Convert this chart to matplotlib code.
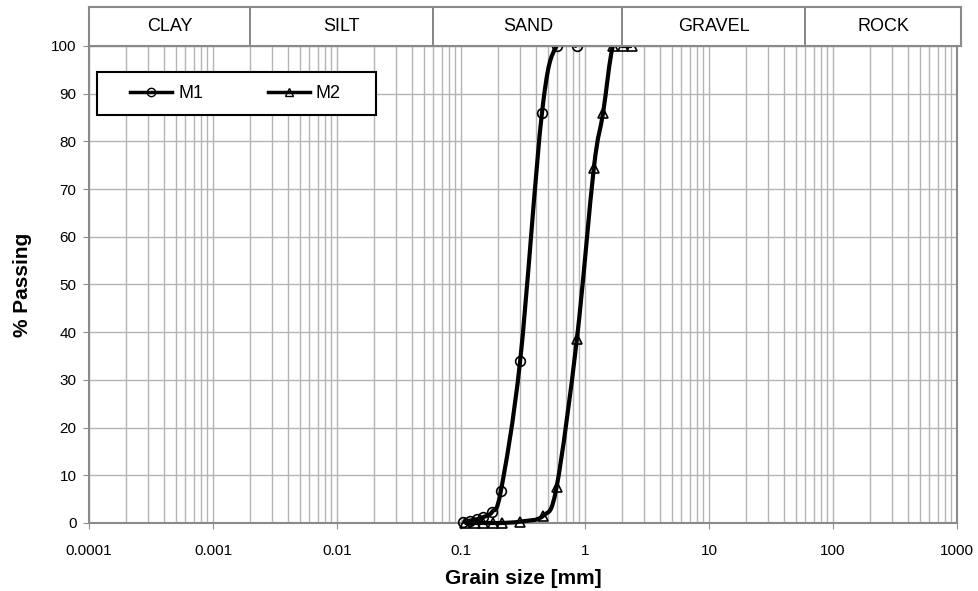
import numpy as np
import matplotlib.pyplot as plt
from matplotlib.path import Path
from matplotlib.patches import PathPatch, Rectangle
from matplotlib.lines import Line2D
from matplotlib.ticker import FixedLocator, FixedFormatter, NullFormatter

plt.rcParams['font.family'] = ['Liberation Sans', 'DejaVu Sans']

# grain size distribution (sieve sizes in mm, % passing)
m1_size = [0.104, 0.118, 0.135, 0.15, 0.178, 0.21, 0.30, 0.45, 0.59, 0.86]
m1_pass = [0.2, 0.5, 0.8, 1.2, 2.3, 6.8, 34, 86, 100, 100]

m2_size = [0.107, 0.13, 0.15, 0.18, 0.215, 0.30, 0.46, 0.59, 0.86, 1.18, 1.40, 1.68, 2.02, 2.39]
m2_pass = [0, 0, 0, 0, 0, 0.3, 1.5, 7.5, 38.5, 74.5, 86, 100, 100, 100]

# soil classes along the top
class_names = ['CLAY', 'SILT', 'SAND', 'GRAVEL', 'ROCK']
class_edges = [0.0001, 0.002, 0.06, 2, 60, 1000]

x_ticks = [0.0001, 0.001, 0.01, 0.1, 1, 10, 100, 1000]
x_labels = ['0.0001', '0.001', '0.01', '0.1', '1', '10', '100', '1000']


def smooth_path(xs, ys):
    # excel-like smoothed line: catmull-rom bezier drawn in log-x space
    lx = np.log10(xs)
    y = np.asarray(ys, dtype=float)
    n = len(lx)
    verts = [(xs[0], y[0])]
    codes = [Path.MOVETO]
    for i in range(n - 1):
        i0 = max(i - 1, 0)
        i3 = min(i + 2, n - 1)
        c1 = (lx[i] + (lx[i + 1] - lx[i0]) / 6, y[i] + (y[i + 1] - y[i0]) / 6)
        c2 = (lx[i + 1] - (lx[i3] - lx[i]) / 6, y[i + 1] - (y[i3] - y[i]) / 6)
        verts += [(10 ** c1[0], c1[1]), (10 ** c2[0], c2[1]), (xs[i + 1], y[i + 1])]
        codes += [Path.CURVE4] * 3
    return Path(verts, codes)


fig = plt.figure(figsize=(9.79, 5.91), dpi=100)
ax = fig.add_axes([0.0909, 0.1151, 0.8866, 0.8071])
band = fig.add_axes([0.0909, 0.9222, 0.8907, 0.066])

ax.set_xscale('log')
ax.set_xlim(0.0001, 1000)
ax.set_ylim(0, 100)

ax.xaxis.set_major_locator(FixedLocator(x_ticks))
ax.xaxis.set_major_formatter(FixedFormatter(x_labels))
minor = [m * 10.0 ** e for e in range(-4, 3) for m in range(2, 10)]
ax.xaxis.set_minor_locator(FixedLocator(minor))
ax.xaxis.set_minor_formatter(NullFormatter())
ax.set_yticks(np.arange(0, 101, 10))

ax.grid(True, which='both', axis='x', color='#b4b4b4', linewidth=1.0)
ax.grid(True, which='major', axis='y', color='#b4b4b4', linewidth=1.0)
ax.set_axisbelow(True)

ax.tick_params(axis='both', which='major', labelsize=11, length=4, color='#909090')
ax.tick_params(axis='x', which='major', pad=11)
ax.tick_params(axis='y', which='major', pad=5)
ax.tick_params(axis='x', which='minor', length=0)
for s in ax.spines.values():
    s.set_color('#8a8a8a')
    s.set_linewidth(1.5)

for xs, ys, mk in [(m1_size, m1_pass, 'o'), (m2_size, m2_pass, '^')]:
    ax.add_patch(PathPatch(smooth_path(xs, ys), facecolor='none', edgecolor='black',
                           linewidth=3, zorder=3, clip_on=False))
    ax.plot(xs, ys, linestyle='none', marker=mk, markersize=7, markerfacecolor='none',
            markeredgecolor='black', markeredgewidth=1.2, zorder=4, clip_on=False)

# legend: frame drawn as a rectangle, entries laid out inside it
ax.add_patch(Rectangle((0.0092, 0.855), 0.321, 0.09, transform=ax.transAxes,
                       facecolor='white', edgecolor='black', linewidth=1.5, zorder=5))
handles = [Line2D([], [], color='black', linewidth=2.5, marker='o', markersize=6,
                  markerfacecolor='none', markeredgecolor='black'),
           Line2D([], [], color='black', linewidth=2.5, marker='^', markersize=6,
                  markerfacecolor='none', markeredgecolor='black')]
leg = ax.legend(handles, ['M1', 'M2'], loc='center left', ncol=2,
                bbox_to_anchor=(0.0475, 0.9), fontsize=13, frameon=False,
                handlelength=2.3, handletextpad=0.35, columnspacing=3.6,
                borderpad=0, borderaxespad=0)
leg.set_zorder(6)

ax.set_xlabel('Grain size [mm]', fontsize=15, fontweight='bold', labelpad=8)
ax.set_ylabel('% Passing', fontsize=15, fontweight='bold', labelpad=14)

# classification band
band.set_xscale('log')
band.set_xlim(0.0001, 10 ** (3 + 4 / 124))
band.set_ylim(0, 1)
band.set_xticks([])
band.set_yticks([])
band.minorticks_off()
for s in band.spines.values():
    s.set_color('#8a8a8a')
    s.set_linewidth(1.5)
for i, name in enumerate(class_names):
    lo, hi = class_edges[i], class_edges[i + 1]
    if i == len(class_names) - 1:
        hi = 10 ** (3 + 4 / 124)
    if i > 0:
        band.axvline(lo, color='#707070', linewidth=1.2)
    band.text(np.sqrt(lo * hi), 0.5, name, ha='center', va='center', fontsize=13)

fig.savefig('out.png', dpi=100)
